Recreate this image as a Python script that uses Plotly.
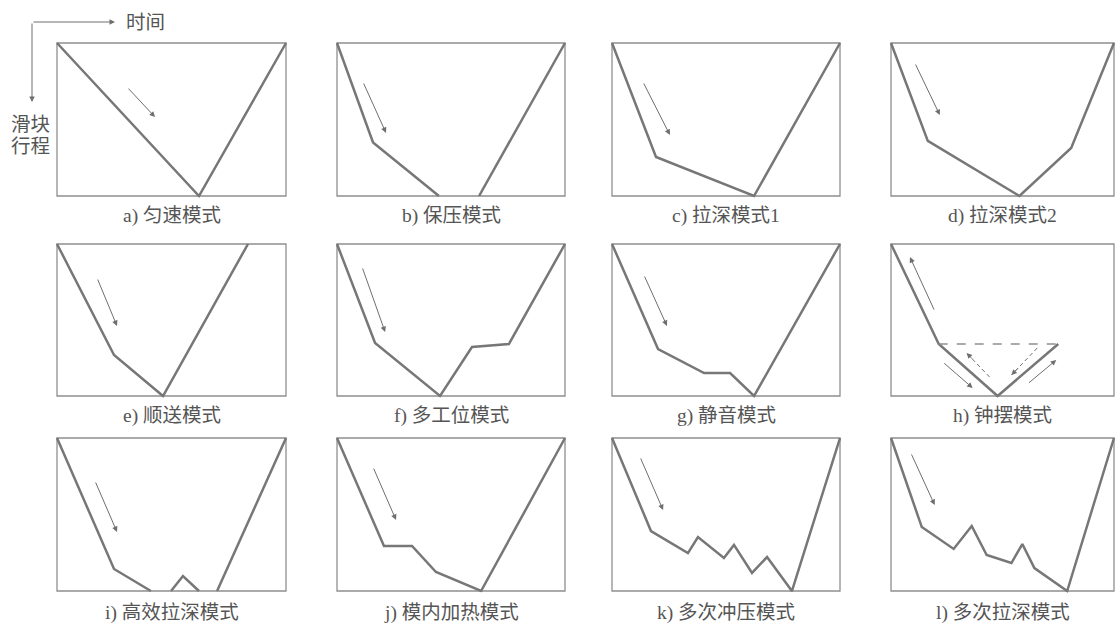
import plotly.graph_objects as go

W, H = 1116, 625

labels = ["a) 匀速模式", "b) 保压模式", "c) 拉深模式1", "d) 拉深模式2",
          "e) 顺送模式", "f) 多工位模式", "g) 静音模式", "h) 钟摆模式",
          "i) 高效拉深模式", "j) 模内加热模式", "k) 多次冲压模式", "l) 多次拉深模式"]

# time (% of cycle) and slide stroke (% of stroke, 0 = top dead centre)
a_t = [0, 62, 100]
a_s = [0, 100, 0]
b_t = [0, 15.8, 44.7, None, 62.3, 100]
b_s = [0, 65, 100, None, 100, 0]
c_t = [0, 19.3, 62.3, 100]
c_s = [0, 74.5, 100, 0]
d_t = [0, 16.5, 57.6, 80.8, 100]
d_s = [0, 64, 100, 68.6, 0]
e_t = [0, 24.9, 46.3, 83.4]
e_s = [0, 73, 100, 0]
f_t = [0, 16.7, 45.2, 59.2, 75.4, 100]
f_s = [0, 65.1, 100, 67.8, 65.8, 0]
g_t = [0, 20.2, 40.4, 51.8, 62.3, 100]
g_s = [0, 69.1, 84.9, 84.9, 100, 0]
h_t = [0, 21.4, 47.8, 75]
h_s = [0, 65.8, 100, 65.8]
h_dash_t = [21.4, 75]
h_dash_s = [65.8, 65.8]
i_t = [0, 24.9, 41, None, 49.8, 55, 62, None, 69.9, 100]
i_s = [0, 85.6, 100, None, 100, 90.2, 100, None, 100, 0]
j_t = [0, 20.6, 32.9, 43.4, 63.2, 100]
j_s = [0, 70.6, 70.6, 87.6, 100, 0]
k_t = [0, 17.1, 33.3, 37.7, 49.1, 53.5, 61.4, 68, 78.9, 100]
k_s = [0, 60.8, 75.2, 64.7, 78.4, 69.9, 88.2, 77.8, 100, 0]
l_t = [0, 13.8, 28.1, 36.2, 42.9, 54, 58.9, 64.3, 79, 100]
l_s = [0, 58.2, 72.5, 57.5, 76.5, 81.7, 69.3, 85, 100, 0]

curves_t = [a_t, b_t, c_t, d_t, e_t, f_t, g_t, h_t, i_t, j_t, k_t, l_t]
curves_s = [a_s, b_s, c_s, d_s, e_s, f_s, g_s, h_s, i_s, j_s, k_s, l_s]

# direction arrows: (tail_t, tail_s, head_t, head_s, dashed)
arrows = [
    [(30.6, 28.8, 42.8, 48.4, False)],
    [(11.4, 25.5, 21.5, 58.8, False)],
    [(13.6, 25.5, 25.4, 60.1, False)],
    [(10.7, 13.1, 21.9, 47.1, False)],
    [(17.5, 22.4, 26.2, 53.9, False)],
    [(11.0, 15.1, 21.1, 57.9, False)],
    [(14.0, 20.4, 24.1, 53.9, False)],
    [(19.6, 44.1, 8.5, 8.6, False),
     (23.2, 77.6, 36.6, 94.7, False),
     (44.2, 87.5, 33.9, 71.7, True),
     (65.6, 68.4, 54.0, 86.2, True),
     (61.2, 92.1, 74.1, 76.3, False)],
    [(16.6, 28.1, 26.2, 61.4, False)],
    [(15.8, 19.0, 25.9, 53.6, False)],
    [(12.3, 12.4, 22.4, 47.1, False)],
    [(8.9, 9.8, 19.6, 43.8, False)],
]

cols_px = [(57, 286), (337, 565), (612, 840), (891, 1114)]
rows_px = [(43, 196), (244, 396), (438, 591)]
label_y_px = [216, 416, 613]

CURVE = "#777777"
BORDER = "#8e8e8e"
ARROW = "#6e6e6e"
TEXT = "#555555"
FONT = "Liberation Serif, Noto Sans CJK SC"
FSIZE = 19.5
PAD = 1.2

fig = go.Figure()
layout = dict(width=W, height=H, autosize=False,
              margin=dict(l=0, r=0, t=0, b=0),
              paper_bgcolor="white", plot_bgcolor="rgba(0,0,0,0)",
              showlegend=False)
annotations = []
shapes = []

for idx in range(12):
    r, c = divmod(idx, 4)
    n = idx + 1
    xs = "" if n == 1 else str(n)
    xa, ya = "x" + xs, "y" + xs
    px0, px1 = cols_px[c]
    py0, py1 = rows_px[r]
    wpx = (px1 - px0) / 100.0
    hpx = (py1 - py0) / 100.0
    dxp0 = max(0.0, px0 - PAD * wpx)
    dxp1 = min(float(W), px1 + PAD * wpx)
    dyp0 = max(0.0, py0 - PAD * hpx)
    dyp1 = min(float(H), py1 + PAD * hpx)
    xr = [(dxp0 - px0) / wpx, (dxp1 - px0) / wpx]
    yr = [(dyp1 - py0) / hpx, (dyp0 - py0) / hpx]
    layout["xaxis" + xs] = dict(domain=[dxp0 / W, dxp1 / W], range=xr, visible=False,
                                anchor=ya, fixedrange=True)
    layout["yaxis" + xs] = dict(domain=[1 - dyp1 / H, 1 - dyp0 / H], range=yr,
                                visible=False, anchor=xa, fixedrange=True)
    shapes.append(dict(type="rect", xref=xa, yref=ya, x0=0, x1=100, y0=0, y1=100,
                       line=dict(color=BORDER, width=1.3), layer="below"))
    fig.add_trace(go.Scatter(x=curves_t[idx], y=curves_s[idx], mode="lines",
                             line=dict(color=CURVE, width=2.5), xaxis=xa, yaxis=ya,
                             connectgaps=False, hoverinfo="skip"))
    if idx == 7:
        fig.add_trace(go.Scatter(x=h_dash_t, y=h_dash_s, mode="lines",
                                 line=dict(color=BORDER, width=1.3, dash="dash"),
                                 xaxis=xa, yaxis=ya, hoverinfo="skip"))
    for (t0, s0, t1, s1, dashed) in arrows[idx]:
        if dashed:
            fig.add_trace(go.Scatter(x=[t0, t1], y=[s0, s1], mode="lines",
                                     line=dict(color=ARROW, width=1, dash="4px,3px"),
                                     xaxis=xa, yaxis=ya, hoverinfo="skip"))
            tt = t1 - 0.3 * (t1 - t0)
            ss = s1 - 0.3 * (s1 - s0)
            annotations.append(dict(x=t1, y=s1, ax=tt, ay=ss, xref=xa, yref=ya,
                                    axref=xa, ayref=ya, showarrow=True, text="",
                                    arrowhead=2, arrowsize=1.1, arrowwidth=1,
                                    arrowcolor=ARROW))
        else:
            annotations.append(dict(x=t1, y=s1, ax=t0, ay=s0, xref=xa, yref=ya,
                                    axref=xa, ayref=ya, showarrow=True, text="",
                                    arrowhead=2, arrowsize=1.1, arrowwidth=1,
                                    arrowcolor=ARROW))
    annotations.append(dict(x=(px0 + px1) / 2 / W, y=1 - label_y_px[r] / H,
                            xref="paper", yref="paper", text=labels[idx],
                            showarrow=False, xanchor="center", yanchor="middle",
                            font=dict(family=FONT, size=FSIZE, color=TEXT)))

# axis legend in the top-left corner
annotations.append(dict(x=115 / W, y=1 - 22 / H, ax=-83, ay=0,
                        xref="paper", yref="paper", axref="pixel", ayref="pixel",
                        showarrow=True, text="", arrowhead=2, arrowsize=1.1,
                        arrowwidth=1, arrowcolor=ARROW))
annotations.append(dict(x=32 / W, y=1 - 102 / H, ax=0, ay=-80,
                        xref="paper", yref="paper", axref="pixel", ayref="pixel",
                        showarrow=True, text="", arrowhead=2, arrowsize=1.1,
                        arrowwidth=1, arrowcolor=ARROW))
annotations.append(dict(x=145 / W, y=1 - 22 / H, xref="paper", yref="paper",
                        text="时间", showarrow=False, xanchor="center",
                        yanchor="middle", font=dict(family=FONT, size=FSIZE, color=TEXT)))
annotations.append(dict(x=30 / W, y=1 - 124 / H, xref="paper", yref="paper",
                        text="滑块", showarrow=False, xanchor="center",
                        yanchor="middle", font=dict(family=FONT, size=FSIZE, color=TEXT)))
annotations.append(dict(x=30 / W, y=1 - 147 / H, xref="paper", yref="paper",
                        text="行程", showarrow=False, xanchor="center",
                        yanchor="middle", font=dict(family=FONT, size=FSIZE, color=TEXT)))

layout["annotations"] = annotations
layout["shapes"] = shapes
fig.update_layout(**layout)

fig.write_html("out.html", config={"displayModeBar": False},
               post_script="document.body.style.margin='0';")
